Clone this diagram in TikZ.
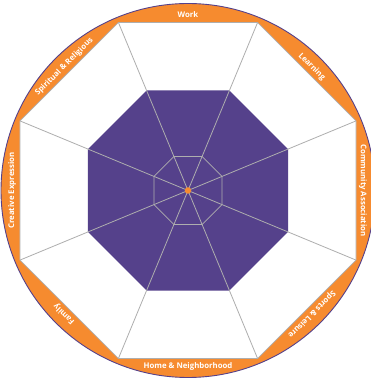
\documentclass[tikz,border=0pt]{standalone}
\usepackage{fontspec}
\setmainfont{Open Sans}
\usetikzlibrary{shapes.geometric}
\definecolor{purp}{HTML}{55418B}
\definecolor{orng}{HTML}{F68B2F}
\definecolor{lgray}{HTML}{AEAEAE}
\begin{document}
\begin{tikzpicture}[x=1pt,y=1pt,
  oct/.style={regular polygon, regular polygon sides=8, inner sep=0pt, outer sep=0pt},
  spoke/.style={draw=lgray, line width=0.8pt},
  lab/.style={text=white, font=\bfseries\fontsize{7.8}{9}\selectfont, inner sep=0pt, anchor=center}]
\useasboundingbox (0,0) rectangle (371,378);
\clip (0,0) rectangle (371,378);
\coordinate (C) at (188,187.5);
\node[circle, minimum size=374pt, inner sep=0pt, fill=orng, draw=purp, line width=0.9pt] (ring) at (C) {};
\node[oct, minimum size=363.7pt, fill=white, draw=lgray, line width=0.8pt] (outer) at (C) {};
\node[oct, minimum size=216.5pt, fill=purp] (mid) at (C) {};
\foreach \i in {1,...,8} \draw[spoke] (C) -- (outer.corner \i);
\node[oct, minimum size=73.6pt, draw=lgray, line width=0.8pt] (inner) at (C) {};
\node[circle, fill=orng, minimum size=6.5pt, inner sep=0pt] (dot) at (C) {};
\node[lab] (work) at ([shift={(90:176)}]C) {Work};
\node[lab, rotate=-45] (learn) at ([shift={(45:175)}]C) {Learning};
\node[lab, rotate=-90] (comm) at ([shift={(0:175)}]C) {Community Association};
\node[lab, rotate=-135] (sport) at ([shift={(-45:175)}]C) {Sports \& Leisure};
\node[lab] (home) at ([shift={(-90:176)}]C) {Home \& Neighborhood};
\node[lab, rotate=135] (family) at ([shift={(-135:175)}]C) {Family};
\node[lab, rotate=90] (creat) at ([shift={(180:176)}]C) {Creative Expression};
\node[lab, rotate=45] (spirit) at ([shift={(135:175)}]C) {Spiritual \& Religious};
\end{tikzpicture}
\end{document}
